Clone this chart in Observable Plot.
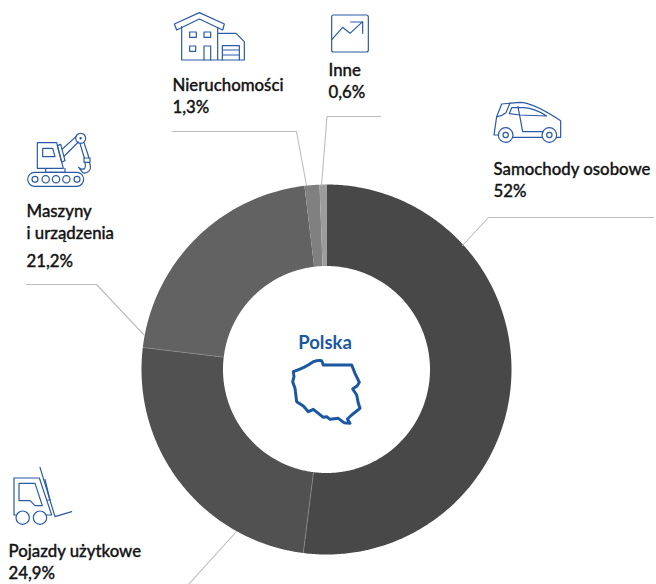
<!DOCTYPE html>
<html lang="pl">
<head>
<meta charset="utf-8">
<script src="https://cdn.jsdelivr.net/npm/d3@7"></script>
<script src="https://cdn.jsdelivr.net/npm/@observablehq/plot@0.6"></script>
<style>
html,body{margin:0;padding:0;background:#fff}
svg{display:block}
</style>
</head>
<body>
<div id="chart"></div>
<script>
const categories = ["Samochody osobowe", "Pojazdy użytkowe", "Maszyny i urządzenia", "Nieruchomości", "Inne"];
const shares = [52, 24.9, 21.2, 1.3, 0.6];
const sliceColors = ["#484848", "#515151", "#626262", "#808080", "#9c9c9c"];
const labelTexts = ["Nieruchomości\n1,3%", "Inne\n0,6%", "Samochody osobowe\n52%", "Maszyny\ni urządzenia", "21,2%", "Pojazdy użytkowe\n24,9%"];
const centerTitle = "Polska";

// layout
const W = 656, H = 584, CX = 326, CY = 369, R = 185, R0 = 103.5;
const BLUE = "#2a5aa6", MAPBLUE = "#1b58a0", INK = "#141414";

const labels = labelTexts.map((text, i) => ({
  text,
  x: [172, 328, 493, 26, 26, 8][i],
  y: [75, 60, 159, 201, 251, 541][i]
}));

const leaders = [
  [[172,131],[296,131],[306,185]],
  [[380,116],[326.5,116],[321,185]],
  [[653,217],[488,217],[462,245]],
  [[26,284],[96,284],[144,335]],
  [[236,531],[188,584]]
].flatMap((pts, id) => pts.map(([x, y]) => ({id, x, y})));

// slices: polygons sampled along the arcs computed from the shares
const total = d3.sum(shares);
const cum = d3.cumsum(shares);
const pt = (a, r, extra) => ({...extra, x: CX + r * Math.sin(a), y: CY - r * Math.cos(a)});
const slices = shares.flatMap((v, i) => {
  const a0 = (cum[i] - v) / total * 2 * Math.PI;
  const a1 = cum[i] / total * 2 * Math.PI;
  const n = Math.max(3, Math.ceil((a1 - a0) / 0.01));
  const t = d3.range(n + 1).map(k => a0 + (a1 - a0) * k / n);
  const extra = {cat: categories[i], color: sliceColors[i]};
  return [...t.map(a => pt(a, R, extra)), ...t.slice().reverse().map(a => pt(a, R0, extra)), pt(a0, R, extra)];
});
// faint separators after the two large lower slices
const separators = [0, 1].flatMap(i => {
  const a = cum[i] / total * 2 * Math.PI;
  return [pt(a, R - 0.5, {i}), pt(a, R0 + 0.5, {i})];
});

// Icons, traced at 3x
const icons = [
  {dx:0, dy:0, paths:[
    "M523,72L598,38L673,72L668,90L598,57L530,90Z",
    "M545,80V180H733V125L708,100H653M653,82V180",
    "M667,180V137H718V180M667,150H718M667,165H718",
    "M569,96h20v16h-20ZM612,96h20v16h-20ZM569,138h18v16h-18ZM612,180V138h20V180"
  ]},
  {dx:0, dy:0, paths:[
    "M112,428H170L190,505H112Z",
    "M128,445H158L165,470H128Z",
    "M137,505V517H195V505",
    "M104,517H230A21,21 0 0 1 230,559H104A21,21 0 0 1 104,517Z",
    "M96,538a9,9 0 1 0 18,0a9,9 0 1 0 -18,0M126,538a11,11 0 1 0 22,0a11,11 0 1 0 -22,0M157,538a11,11 0 1 0 22,0a11,11 0 1 0 -22,0M188,538a11,11 0 1 0 22,0a11,11 0 1 0 -22,0M222,538a9,9 0 1 0 18,0a9,9 0 1 0 -18,0",
    "M172,437L182,433L195,482L185,486Z",
    "M187,447L228,410M193,468L235,426",
    "M227,415a15,15 0 1 0 30,0a15,15 0 1 0 -30,0M240,415a2,2 0 1 0 4,0a2,2 0 1 0 -4,0",
    "M240,430L253,474M252,428L267,474",
    "M252,474H270V487H252Z",
    "M268,487Q275,505 268,512Q258,522 248,518L236,502Q245,510 254,506Q258,500 255,487"
  ]},
  {dx:320, dy:0, paths:[
    "M41,45H139A6,6 0 0 1 145,51V150A6,6 0 0 1 139,156H41A6,6 0 0 1 35,150V51A6,6 0 0 1 41,45Z",
    "M36,118L68,82L90,100L128,65M92,66H128V100"
  ]},
  {dx:320, dy:0, paths:[
    "M535,405L522,405L530,350L545,312L600,307Q640,308 722,362V412H709",
    "M580,412H666",
    "M535,405a22,22 0 1 0 44,0a22,22 0 1 0 -44,0M549,405a8,8 0 1 0 16,0a8,8 0 1 0 -16,0",
    "M666,405a22,22 0 1 0 44,0a22,22 0 1 0 -44,0M680,405a8,8 0 1 0 16,0a8,8 0 1 0 -16,0",
    "M568,341L575,323H612Q645,325 680,348L600,345Z",
    "M594,320L608,395H670",
    "M532,350Q545,348 558,338L570,309"
  ]},
  {dx:0, dy:450, paths:[
    "M47,195H42V84H118L155,195H140",
    "M57,100H105L127,167H105L90,152H57Z",
    "M48,203a20,20 0 1 0 40,0a20,20 0 1 0 -40,0M100,203a20,20 0 1 0 40,0a20,20 0 1 0 -40,0",
    "M120,52L165,200L215,185",
    "M135,88L150,150H143"
  ]}
];
const poland = "M70,155Q85,150 100,143Q115,135 130,125Q145,120 155,122L160,135L245,135L255,160L268,187L262,197L248,207L260,225L265,250L270,265L245,285L232,297L240,310L222,308L205,295L180,298L170,290L160,292L130,268L115,275L100,258L80,245L75,205L68,185L72,170Z";

function iconMark() {
  const g = d3.create("svg:g").attr("fill", "none").attr("stroke-linejoin", "round").attr("stroke-linecap", "round");
  for (const ic of icons) {
    const sub = g.append("g").attr("transform", `translate(${ic.dx},${ic.dy}) scale(${1/3})`)
      .attr("stroke", BLUE).attr("stroke-width", 3.6);
    for (const d of ic.paths) sub.append("path").attr("d", d);
  }
  g.append("g").attr("transform", `translate(270,320) scale(${1/3})`)
    .attr("stroke", MAPBLUE).attr("stroke-width", 9)
    .append("path").attr("d", poland);
  return g.node();
}

const textFont = "Lato, 'Open Sans', sans-serif";
const plot = Plot.plot({
  width: W, height: H,
  margin: 0,
  x: {domain: [0, W], range: [0, W], axis: null},
  y: {domain: [0, H], range: [0, H], axis: null},
  marks: [
    Plot.line(slices, {x: "x", y: "y", z: "cat", fill: "color", stroke: null, curve: "linear"}),
    Plot.line(separators, {x: "x", y: "y", z: "i", stroke: "#8c8c8c", strokeWidth: 0.7, curve: "linear"}),
    Plot.line(leaders, {x: "x", y: "y", z: "id", stroke: "#bdbdbd", strokeWidth: 1.1, curve: "linear"}),
    Plot.text(labels, {x: "x", y: "y", text: "text", textAnchor: "start", lineAnchor: "top", lineHeight: 1.3, fontSize: 16.8, fontWeight: 500, fill: INK, stroke: INK, strokeWidth: 0.35, fontFamily: textFont}),
    Plot.text([centerTitle], {x: [324.5], y: [343], text: d => d, fontSize: 18.5, fontWeight: 700, fill: MAPBLUE, fontFamily: textFont}),
    iconMark
  ]
});
document.getElementById("chart").append(plot);
</script>
</body>
</html>
